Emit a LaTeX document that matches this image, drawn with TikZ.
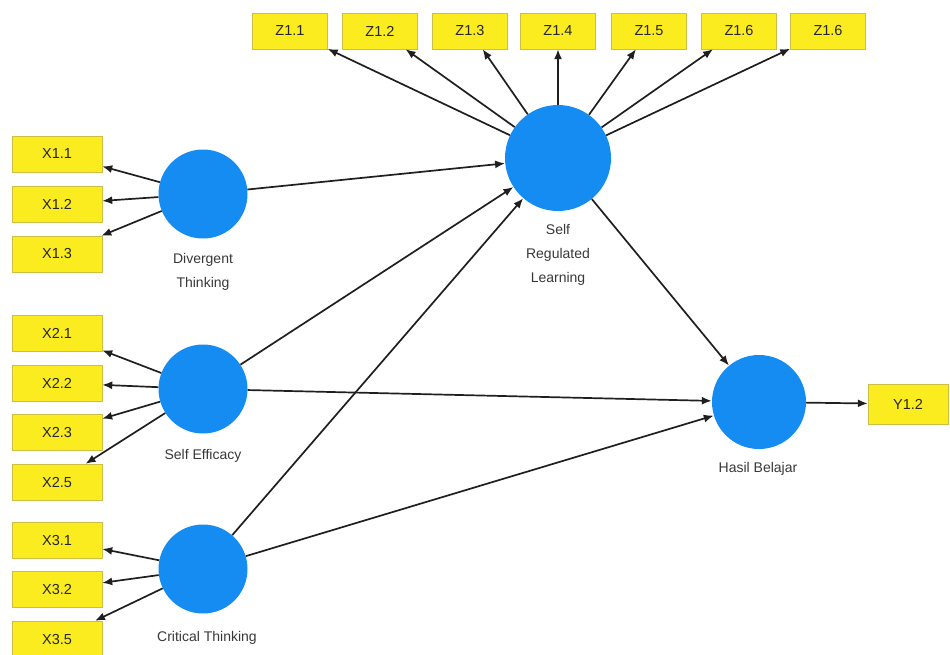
\documentclass[tikz,border=0pt]{standalone}
\usepackage{fontspec}
\setmainfont{Liberation Sans}
\usepackage{tikz}
\usetikzlibrary{arrows.meta}
\definecolor{latentblue}{RGB}{20,140,242}
\definecolor{itemyellow}{RGB}{250,236,30}
\definecolor{itemborder}{RGB}{205,190,70}

\begin{document}
\begin{tikzpicture}[x=1pt,y=-1pt,
  item/.style={draw=itemborder,fill=itemyellow,inner sep=0pt,minimum height=36pt,
    text=black!85,font=\fontsize{14.5}{16}\selectfont},
  xitem/.style={item,minimum width=90pt},
  zitem/.style={item,minimum width=75pt},
  latent/.style={circle,fill=latentblue,inner sep=0pt,minimum size=89pt},
  lbl/.style={align=center,font=\fontsize{14}{24}\selectfont,text=black!78},
  loading/.style={-{Latex[length=10pt,width=8pt]},line width=1.7pt,draw=black!88}]
\useasboundingbox (0,0) rectangle (950,654);

% indicators
\node[zitem] (z11) at (290,31) {Z1.1};
\node[zitem] (z12) at (380,31) {Z1.2};
\node[zitem] (z13) at (470,31) {Z1.3};
\node[zitem] (z14) at (558,31) {Z1.4};
\node[zitem] (z15) at (649,31) {Z1.5};
\node[zitem] (z16) at (739,31) {Z1.6};
\node[zitem] (z17) at (828,31) {Z1.6};
\node[xitem] (x11) at (57,154) {X1.1};
\node[xitem] (x12) at (57,204) {X1.2};
\node[xitem] (x13) at (57,254) {X1.3};
\node[xitem] (x21) at (57,333) {X2.1};
\node[xitem] (x22) at (57,383) {X2.2};
\node[xitem] (x23) at (57,432) {X2.3};
\node[xitem] (x25) at (57,482) {X2.5};
\node[xitem] (x31) at (57,540) {X3.1};
\node[xitem] (x32) at (57,589) {X3.2};
\node[xitem] (x35) at (57,639) {X3.5};
\node[item,minimum width=80pt,minimum height=40pt] (y12) at (908,404) {Y1.2};

% constructs
\node[latent] (dt) at (203,194) {};
\node[latent] (se) at (203,389) {};
\node[latent] (ct) at (203,569) {};
\node[latent,minimum size=106pt] (srl) at (558,158) {};
\node[latent,minimum size=94pt] (hb) at (759,402) {};
\node[lbl] (dtlbl) at (203,272) {Divergent\\Thinking};
\node[lbl] (selbl) at (203,456) {Self Efficacy};
\node[lbl] (ctlbl) at (207,638) {Critical Thinking};
\node[lbl] (srllbl) at (558,255) {Self\\Regulated\\Learning};
\node[lbl] (hblbl) at (758,469) {Hasil Belajar};

% loadings
\draw[loading] (dt) -- (x11);
\draw[loading] (dt) -- (x12);
\draw[loading] (dt) -- (x13);
\draw[loading] (se) -- (x21);
\draw[loading] (se) -- (x22);
\draw[loading] (se) -- (x23);
\draw[loading] (se) -- (x25);
\draw[loading] (ct) -- (x31);
\draw[loading] (ct) -- (x32);
\draw[loading] (ct) -- (x35);
\draw[loading] (srl) -- (z11);
\draw[loading] (srl) -- (z12);
\draw[loading] (srl) -- (z13);
\draw[loading] (srl) -- (z14);
\draw[loading] (srl) -- (z15);
\draw[loading] (srl) -- (z16);
\draw[loading] (srl) -- (z17);
\draw[loading] (hb) -- (y12);

% structural paths
\draw[loading] (dt) -- (srl);
\draw[loading] (se) -- (srl);
\draw[loading] (ct) -- (srl);
\draw[loading] (se) -- (hb);
\draw[loading] (ct) -- (hb);
\draw[loading] (srl) -- (hb);
\end{tikzpicture}
\end{document}
